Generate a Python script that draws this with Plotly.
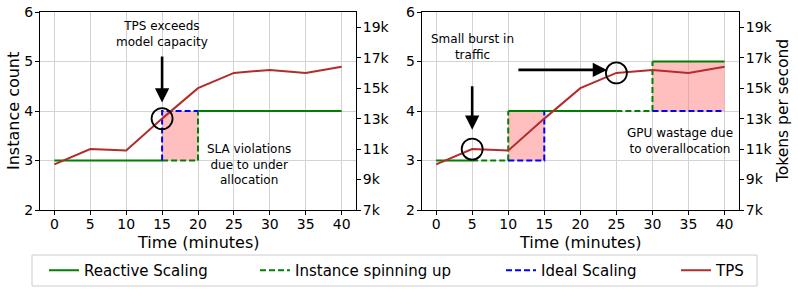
import plotly.graph_objects as go

# ---------------- data ----------------
times = [0, 5, 10, 15, 20, 25, 30, 35, 40]
tps = [10000, 11000, 10900, 13000, 15000, 16000, 16200, 16000, 16400]

# left panel (reactive scaling lags behind demand)
left_reactive_x = [0, 15, None, 20, 40]
left_reactive_y = [3, 3, None, 4, 4]
left_spinup_x = [15, 20, 20]
left_spinup_y = [3, 3, 4]
left_ideal_x = [15, 15, 20]
left_ideal_y = [3, 4, 4]
left_shade_start = [15]
left_shade_end = [20]
left_shade_low = [3]
left_shade_high = [4]
left_circle_times = [15]

# right panel (reactive scaling over-allocates)
right_reactive_x = [0, 5, None, 10, 25, None, 30, 40]
right_reactive_y = [3, 3, None, 4, 4, None, 5, 5]
right_spinup_x = [5, 10, 10, None, 25, 30, 30]
right_spinup_y = [3, 3, 4, None, 4, 4, 5]
right_ideal_x = [10, 15, 15, None, 30, 40]
right_ideal_y = [3, 3, 4, None, 4, 4]
right_shade_start = [10, 30]
right_shade_end = [15, 40]
right_shade_low = [3, 4]
right_shade_high = [4, 5]
right_circle_times = [5, 25]

inst_ticks = [2, 3, 4, 5, 6]
tps_ticks = [7000, 9000, 11000, 13000, 15000, 17000, 19000]
tps_ticklabels = ["7k", "9k", "11k", "13k", "15k", "17k", "19k"]
x_ticks = [0, 5, 10, 15, 20, 25, 30, 35, 40]

legend_names = ["Reactive Scaling", "Instance spinning up", "Ideal Scaling", "TPS"]

GREEN = "#008000"
BLUE = "#0000ff"
RED = "#b22c2c"
PINK = "rgba(255,128,128,0.5)"
FONT = "DejaVu Sans"
DASH = "6px,3px"
W, H = 798, 293

fig = go.Figure()


def shade_poly(starts, ends, lows, highs):
    xs, ys = [], []
    for s, e, lo, hi in zip(starts, ends, lows, highs):
        xs += [s, e, e, s, s, None]
        ys += [lo, lo, hi, hi, lo, None]
    return xs, ys


def add_panel(xa, ya, ya2, rx, ry, sx, sy, ix, iy, shade, circles, show):
    shx, shy = shade_poly(*shade)
    fig.add_trace(go.Scatter(x=shx, y=shy, xaxis=xa, yaxis=ya, mode="lines",
                             fill="toself", fillcolor=PINK, line=dict(width=0),
                             showlegend=False, hoverinfo="skip"))
    fig.add_trace(go.Scatter(x=rx, y=ry, xaxis=xa, yaxis=ya, mode="lines",
                             line=dict(color=GREEN, width=2),
                             name=legend_names[0], showlegend=show, legend="legend"))
    fig.add_trace(go.Scatter(x=sx, y=sy, xaxis=xa, yaxis=ya, mode="lines",
                             line=dict(color=GREEN, width=2, dash=DASH),
                             name=legend_names[1], showlegend=show, legend="legend2"))
    fig.add_trace(go.Scatter(x=ix, y=iy, xaxis=xa, yaxis=ya, mode="lines",
                             line=dict(color=BLUE, width=2, dash=DASH),
                             name=legend_names[2], showlegend=show, legend="legend3"))
    fig.add_trace(go.Scatter(x=times, y=tps, xaxis=xa, yaxis=ya2, mode="lines",
                             line=dict(color=RED, width=2),
                             name=legend_names[3], showlegend=show, legend="legend4"))
    cy = [tps[times.index(t)] for t in circles]
    fig.add_trace(go.Scatter(x=circles, y=cy, xaxis=xa, yaxis=ya2, mode="markers",
                             marker=dict(symbol="circle-open", size=21,
                                         color="black", line=dict(width=1.8)),
                             showlegend=False, hoverinfo="skip"))


add_panel("x", "y", "y2", left_reactive_x, left_reactive_y, left_spinup_x,
          left_spinup_y, left_ideal_x, left_ideal_y,
          (left_shade_start, left_shade_end, left_shade_low, left_shade_high),
          left_circle_times, True)
add_panel("x2", "y3", "y4", right_reactive_x, right_reactive_y, right_spinup_x,
          right_spinup_y, right_ideal_x, right_ideal_y,
          (right_shade_start, right_shade_end, right_shade_low, right_shade_high),
          right_circle_times, False)

ydom = [1 - 210 / H, 1 - 12 / H]
x1dom = [40 / W, 356 / W]
x2dom = [421.7 / W, 739 / W]
axis_common = dict(showline=True, linecolor="black", linewidth=1, mirror=True,
                   ticks="outside", ticklen=4, tickcolor="black", automargin=False,
                   tickfont=dict(size=14, color="black", family=FONT),
                   showgrid=True, gridcolor="#d3d3d3", gridwidth=1, zeroline=False)
xcommon = dict(axis_common, range=[-2, 42], tickvals=x_ticks, ticklabelstandoff=-3)
ycommon = dict(axis_common, ticklabelstandoff=-1)
fig.update_layout(
    xaxis=dict(xcommon, domain=x1dom, anchor="y"),
    xaxis2=dict(xcommon, domain=x2dom, anchor="y3"),
    yaxis=dict(ycommon, domain=ydom, range=[2, 6], tickvals=inst_ticks, anchor="x"),
    yaxis2=dict(ycommon, overlaying="y", side="right", anchor="x", range=[7000, 20000],
                tickvals=tps_ticks, ticktext=tps_ticklabels, showgrid=False, mirror=False),
    yaxis3=dict(ycommon, domain=ydom, range=[2, 6], tickvals=inst_ticks, anchor="x2"),
    yaxis4=dict(ycommon, overlaying="y3", side="right", anchor="x2", range=[7000, 20000],
                tickvals=tps_ticks, ticktext=tps_ticklabels, showgrid=False, mirror=False),
)

ann_font = dict(size=12, family=FONT, color="black")
title_font = dict(size=16, family=FONT, color="black")
arrow = dict(text="", showarrow=True, arrowhead=2, arrowsize=1.1, arrowwidth=2.6,
             arrowcolor="black")
ctr = dict(xanchor="center", yanchor="middle", showarrow=False)
annotations = [
    # axis titles
    dict(ctr, x=sum(x1dom) / 2, y=1 - 242 / H, xref="paper", yref="paper",
         text="Time (minutes)", font=title_font),
    dict(ctr, x=sum(x2dom) / 2, y=1 - 242 / H, xref="paper", yref="paper",
         text="Time (minutes)", font=title_font),
    dict(ctr, x=14 / W, y=sum(ydom) / 2, xref="paper", yref="paper", textangle=-90,
         text="Instance count", font=title_font),
    dict(ctr, x=783 / W, y=sum(ydom) / 2, xref="paper", yref="paper", textangle=-90,
         text="Tokens per second", font=dict(title_font, size=15.5)),
    # left panel
    dict(ctr, x=15, y=5.55, xref="x", yref="y", text="TPS exceeds<br>model capacity",
         font=ann_font),
    dict(arrow, x=15, y=4.17, xref="x", yref="y", ax=15, ay=5.13, axref="x", ayref="y"),
    dict(ctr, x=27.1, y=2.91, xref="x", yref="y",
         text="SLA violations<br>due to under<br>allocation", font=ann_font),
    # right panel
    dict(ctr, x=5, y=5.3, xref="x2", yref="y3", text="Small burst in<br>traffic",
         font=ann_font),
    dict(arrow, x=5, y=3.62, xref="x2", yref="y3", ax=5, ay=4.53, axref="x2", ayref="y3"),
    dict(arrow, x=23.7, y=4.83, xref="x2", yref="y3", ax=11.2, ay=4.83, axref="x2", ayref="y3"),
    dict(ctr, x=33.8, y=3.39, xref="x2", yref="y3", text="GPU wastage due<br>to overallocation",
         font=ann_font),
]
fig.update_layout(annotations=annotations)

# legend frame
fig.add_shape(type="rect", xref="paper", yref="paper", x0=32 / W, x1=757 / W,
              y0=1 - 286 / H, y1=1 - 255 / H, line=dict(color="#cccccc", width=1),
              fillcolor="white", layer="below")

leg_text_x = [84, 295, 541, 716]
leg_common = dict(orientation="h", xanchor="left", y=1 - 270.5 / H, yanchor="middle",
                  borderwidth=0, bgcolor="rgba(0,0,0,0)",
                  font=dict(size=15, family=FONT, color="black"))
fig.update_layout(
    width=W, height=H, autosize=False,
    margin=dict(l=0, r=0, t=0, b=0),
    paper_bgcolor="white", plot_bgcolor="white",
    font=dict(family=FONT, color="black"),
    legend=dict(leg_common, x=(leg_text_x[0] - 40) / W),
    legend2=dict(leg_common, x=(leg_text_x[1] - 40) / W),
    legend3=dict(leg_common, x=(leg_text_x[2] - 40) / W),
    legend4=dict(leg_common, x=(leg_text_x[3] - 40) / W),
)

fig.write_html("out.html", config={"displayModeBar": False},
               post_script="document.body.style.margin='0';document.body.style.overflow='hidden';")
